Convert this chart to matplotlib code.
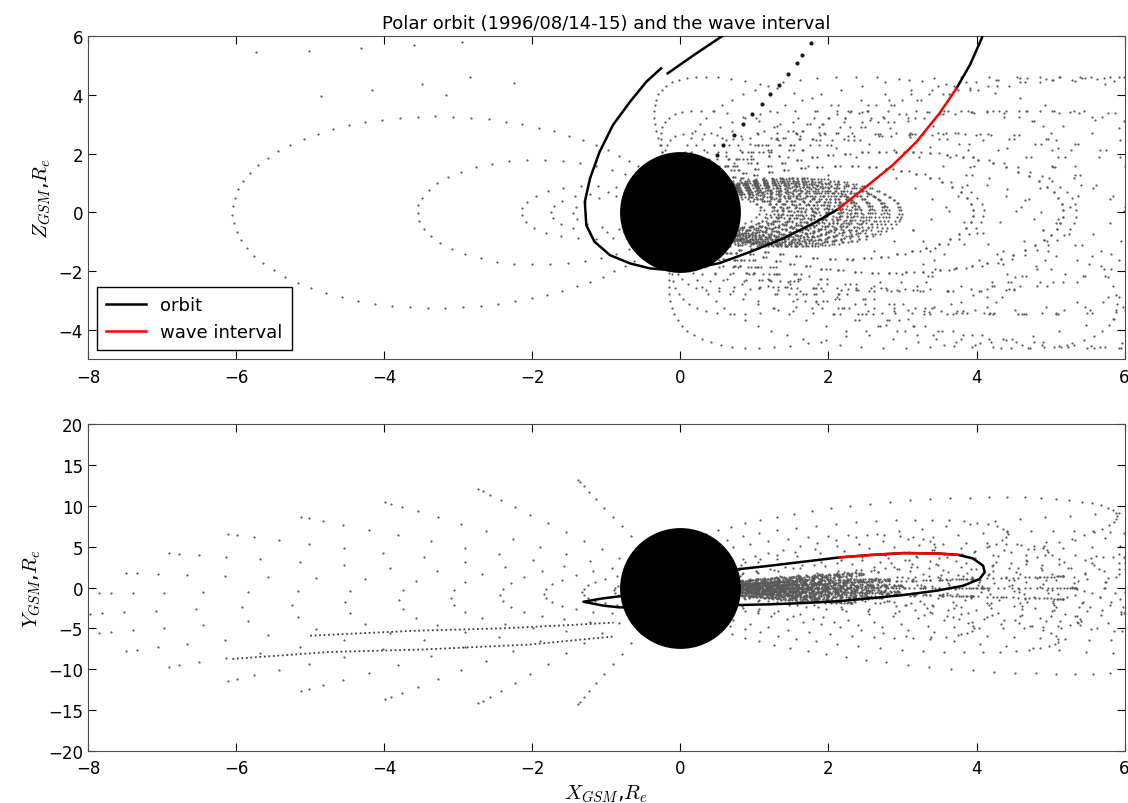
import numpy as np
import matplotlib.pyplot as plt

plt.rcParams['mathtext.fontset'] = 'cm'

# Polar orbit in the X-Z plane (two pieces, start and end of the day)
orb_xz_x1 = [0.60, 0.55, 0.20, -0.17]
orb_xz_z1 = [6.05, 5.97, 5.38, 4.73]
orb_xz_x2 = [-0.26, -0.46, -0.68, -0.91, -1.09, -1.22, -1.29, -1.27, -1.16, -0.95,
             -0.68, -0.41, 0.0, 0.53, 0.94, 1.39, 1.84, 2.13]
orb_xz_z2 = [4.90, 4.44, 3.76, 2.97, 2.06, 1.15, 0.36, -0.44, -1.00, -1.46,
             -1.74, -1.91, -2.0, -1.73, -1.35, -0.89, -0.32, 0.11]
orb_xz_x3 = [3.73, 3.91, 4.07, 4.09]
orb_xz_z3 = [4.22, 5.01, 5.92, 6.1]
wave_xz_x = [2.13, 2.51, 2.87, 3.19, 3.50, 3.73]
wave_xz_z = [0.11, 0.87, 1.61, 2.40, 3.37, 4.22]

# Polar orbit in the X-Y plane
orb_xy_x = [0.80, 1.21, 1.66, 2.15, 2.15, 2.56, 3.01, 3.46, 3.75, 3.75, 3.95, 4.09, 4.11, 4.04, 3.82,
            3.46, 3.01, 2.56, 2.11, 1.66, 1.21, 0.80, 0.0, -0.82, -1.04, -1.31, -1.04, -0.82, 0.0, 0.80]
orb_xy_y = [2.26, 2.67, 3.16, 3.69, 3.69, 3.98, 4.22, 4.18, 4.01, 4.01, 3.57, 2.67, 1.86, 1.04, 0.22,
            -0.39, -0.92, -1.32, -1.69, -1.90, -2.06, -2.14, -2.3, -2.43, -2.22, -1.74, -1.32, -1.08, 0.5, 2.26]
wave_xy_x = [2.15, 2.56, 3.01, 3.46, 3.75]
wave_xy_y = [3.69, 3.98, 4.22, 4.18, 4.01]

# field line background: dipole shells, L in Re, phi = magnetic longitude in deg
day_L = [1.4, 1.6, 1.8, 2.0, 2.2, 2.4, 2.6, 2.8, 3.0]
day_phi = [-40, -25, -10, 5, 20, 35]
day_twist = 0.25
outer_L = [4.1, 5.35]
outer_phi = [-15, 0, 15]
high_L = [7.0, 9.0, 12.0]
high_phi = [-60, -42, -24, -6, 12, 30, 48, 66]
high_twist = 0.6
night_L = [1.45, 1.75, 2.15, 3.55, 6.05]
night_zs = [1.0, 1.0, 1.1, 1.3, 1.4]
fan_L = 8.0
fan_phi = [100, 110, 120, 130, 140, 150, 160, 170, 180, 190, 200, 210, 220, 230, 240, 250, 260]

# bold dotted trace above the earth and tail lobe dots (upper panel)
cusp_x = [0.49, 0.58, 0.72, 0.85, 0.97, 1.10, 1.21, 1.33, 1.45, 1.57, 1.64, 1.77]
cusp_z = [1.95, 2.29, 2.63, 2.99, 3.33, 3.67, 4.01, 4.33, 4.70, 5.07, 5.35, 5.75]
lobe_x = [-5.73, -5.01, -4.31, -3.60, -2.95, -4.85, -4.17, -3.49, -2.84, -3.17, -2.25]
lobe_z = [5.45, 5.50, 5.59, 5.69, 5.79, 3.97, 4.16, 4.37, 4.59, 3.99, 4.41]

# dense streaks in the lower panel (nightside, dawn side)
streak_a_x = [-6.05, -4.75, -3.5, -2.05, -0.9]
streak_a_y = [-8.75, -7.9, -7.6, -7.0, -6.0]
streak_b_x = [-5.0, -3.6, -2.4, -1.5, -0.9]
streak_b_y = [-5.9, -5.3, -5.0, -4.6, -4.3]


def dipole_line(L, phi, step, twist=0.0):
    lam_max = np.degrees(np.arccos(np.sqrt(1.0 / L)))
    lam_d = np.arange(-lam_max, lam_max + 1e-9, step)
    lam = np.radians(lam_d)
    r = L * np.cos(lam) ** 2
    rho = r * np.cos(lam)
    p = np.radians(phi + twist * lam_d)
    return rho * np.cos(p), rho * np.sin(p), r * np.sin(lam)


# dayside lines, seen in both panels
X, Y, Z = [], [], []
for L in day_L:
    for ph in day_phi:
        x, y, z = dipole_line(L, ph, 7.0 / L, day_twist)
        X.append(x); Y.append(y); Z.append(z)
for L in outer_L:
    for ph in outer_phi:
        x, y, z = dipole_line(L, ph, 12.0 / L)
        X.append(x); Y.append(y); Z.append(z)
for L in high_L:
    for ph in high_phi:
        x, y, z = dipole_line(L, ph, 22.0 / L, high_twist)
        X.append(x); Y.append(y); Z.append(z)
X = np.concatenate(X); Y = np.concatenate(Y); Z = np.concatenate(Z)

# nightside loops in the noon-midnight plane (upper panel)
NX, NZ = [], []
for L, zs in zip(night_L, night_zs):
    x, y, z = dipole_line(L, 180, 12.0 / L)
    NX.append(x); NZ.append(z * zs)
NX = np.concatenate(NX); NZ = np.concatenate(NZ)

# tail fan (lower panel)
FX, FY = [], []
for ph in fan_phi:
    x, y, z = dipole_line(fan_L, ph, 4.5)
    keep = z >= 0
    FX.append(x[keep]); FY.append(1.75 * y[keep] + 0.4 * x[keep])
FX = np.concatenate(FX); FY = np.concatenate(FY)

fig = plt.figure(figsize=(11.28, 8.04), dpi=100)
ax1 = fig.add_axes([0.078, 0.552, 0.919, 0.402])
ax2 = fig.add_axes([0.078, 0.065, 0.919, 0.406])

dot = dict(s=2.5, color='0.35', lw=0, zorder=1)

# upper panel: X-Z
ax1.scatter(X, Z, **dot)
ax1.scatter(NX, NZ, **dot)
ax1.scatter(lobe_x, lobe_z, **dot)
ax1.scatter(cusp_x, cusp_z, s=9, color='0.1', lw=0, zorder=1)
ax1.plot(orb_xz_x1, orb_xz_z1, 'k-', lw=1.8, zorder=3, label='orbit')
ax1.plot(orb_xz_x2, orb_xz_z2, 'k-', lw=1.8, zorder=3)
ax1.plot(orb_xz_x3, orb_xz_z3, 'k-', lw=1.8, zorder=3)
ax1.plot(wave_xz_x, wave_xz_z, 'r-', lw=1.8, zorder=3, label='wave interval')
ax1.plot(0, 0, 'o', ms=87, color='k', mew=0, zorder=4)
ax1.set_xlim(-8, 6)
ax1.set_ylim(-5, 6)
ax1.set_ylabel('$Z_{GSM}$,$R_e$', fontsize=15)
ax1.set_title('Polar orbit (1996/08/14-15) and the wave interval', fontsize=13)
leg = ax1.legend(loc='lower left', fontsize=13, fancybox=False, edgecolor='k',
                 framealpha=1, handlelength=2.2, borderpad=0.5)
leg.get_frame().set_linewidth(1.0)

# lower panel: X-Y
ax2.scatter(X, Y, **dot)
ax2.scatter(FX, FY, **dot)
ax2.plot(streak_a_x, streak_a_y, color='0.25', ls=(0, (1, 1.5)), lw=1.3, zorder=1)
ax2.plot(streak_b_x, streak_b_y, color='0.25', ls=(0, (1, 1.5)), lw=1.3, zorder=1)
ax2.plot(orb_xy_x, orb_xy_y, 'k-', lw=1.8, zorder=3)
ax2.plot(wave_xy_x, wave_xy_y, 'r-', lw=1.8, zorder=3)
ax2.plot(0, 0, 'o', ms=87, color='k', mew=0, zorder=4)
ax2.set_xlim(-8, 6)
ax2.set_ylim(-20, 20)
ax2.set_yticks(range(-20, 21, 5))
ax2.set_xlabel('$X_{GSM}$,$R_e$', fontsize=15)
ax2.set_ylabel('$Y_{GSM}$,$R_e$', fontsize=15)

for ax in (ax1, ax2):
    ax.tick_params(direction='in', top=True, right=True, length=6, labelsize=12)
    ax.tick_params(axis='x', pad=6)
    for s in ax.spines.values():
        s.set_color('0.3')

fig.savefig('out.png', dpi=100)
